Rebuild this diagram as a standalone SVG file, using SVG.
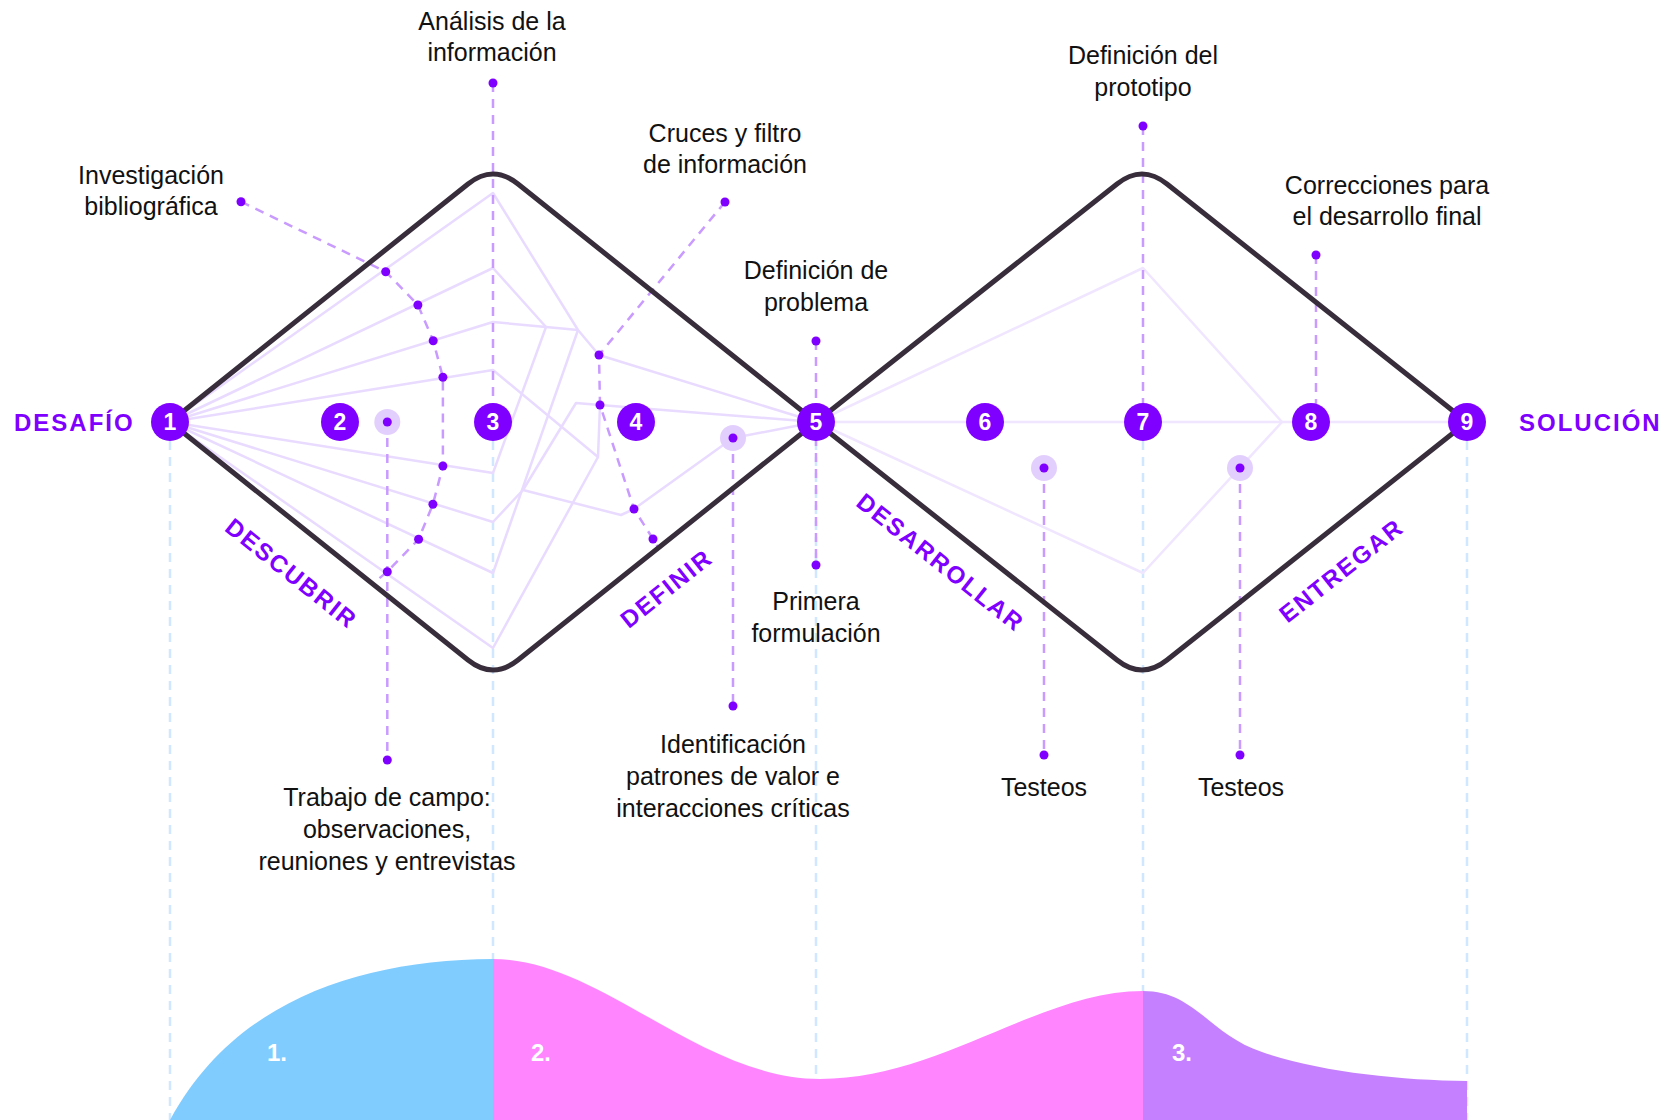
<svg xmlns="http://www.w3.org/2000/svg" width="1675" height="1120" viewBox="0 0 1675 1120">
<style>
.dia{fill:none;stroke:#372d3b;stroke-width:5;stroke-linejoin:round}
.web{fill:none;stroke:#e9dbff;stroke-width:2.5;stroke-linejoin:round}
.web2{fill:none;stroke:#f0e6ff;stroke-width:2.5;stroke-linejoin:round}
.pd{fill:none;stroke:#c99bff;stroke-width:2.5;stroke-dasharray:9 7}
.bd{fill:none;stroke:#cfe8ff;stroke-width:2.5;stroke-dasharray:9 7}
.dot{fill:#7f00ff}
.halo{fill:#e3cffd}
.nd{fill:#7f00ff}
.num{fill:#fff;font-family:"Liberation Sans",Arial,sans-serif;font-weight:bold;font-size:23px;text-anchor:middle}
.lbl{fill:#111;font-family:"Liberation Sans",Arial,sans-serif;font-size:25px;text-anchor:middle}
.phase{fill:#7f00ff;font-family:"Liberation Sans",Arial,sans-serif;font-weight:bold;font-size:24px;letter-spacing:2px}
.sec{fill:#fff;font-family:"Liberation Sans",Arial,sans-serif;font-weight:bold;font-size:24px}
</style>

<g id="guides">
<line class="bd" x1="170" y1="441" x2="170" y2="1120"/>
<line class="bd" x1="493" y1="441" x2="493" y2="960"/>
<line class="bd" x1="816" y1="441" x2="816" y2="1080"/>
<line class="bd" x1="1143" y1="441" x2="1143" y2="992"/>
<line class="bd" x1="1467" y1="441" x2="1467" y2="1120"/>
</g>

<g id="curves">
<path d="M170,1120 C235,1000 360,960 493,959 L493,1120 Z" fill="#80ccff"/>
<path d="M493,959 C600,959 700,1079 820,1079 C940,1079 1040,991 1143,991 L1143,1120 L493,1120 Z" fill="#ff85ff"/>
<path d="M1143,991 C1195,991 1210,1035 1262,1052 C1320,1072 1400,1080 1467,1081 L1467,1120 L1143,1120 Z" fill="#c580ff"/>
<text class="sec" x="267" y="1061">1.</text>
<text class="sec" x="531" y="1061">2.</text>
<text class="sec" x="1172" y="1061">3.</text>
</g>

<g id="connectors">
<path class="web" d="M170,422 L493,193 L578,330 L599,355 L816,422"/>
<path class="web" d="M170,422 L493,268 L546,327"/>
<path class="web" d="M170,422 L493,322 L546,327 L578,330"/>
<path class="web" d="M170,422 L493,370 L598,457 L600,405 L816,422"/>
<path class="web" d="M170,422 L493,473 L546,327"/>
<path class="web" d="M170,422 L493,522 L523,490 L621,515 L634,509 L733,438 L816,422"/>
<path class="web" d="M523,490 L576,403 L600,405"/>
<path class="web" d="M170,422 L493,573 L578,330"/>
<path class="web" d="M170,422 L493,648 L598,457"/>
<path class="web2" d="M816,422 L1143,268 L1282,422 L1143,573 L816,422"/>
<path class="web2" d="M816,422 L1467,422"/>

<polyline class="pd" points="241,201.7 385.7,271.7 417.9,305 433.2,340.7 442.9,377.3 442.9,466 432.9,504.3 418.6,539.3 387.3,571.7 376,581"/>
<line class="pd" x1="387.3" y1="422" x2="387.3" y2="760"/>
<line class="pd" x1="493" y1="83" x2="493" y2="404"/>
<polyline class="pd" points="725,202 599,355 600,405 634,509 653,539 659,549"/>
<line class="pd" x1="733" y1="438" x2="733" y2="706"/>
<line class="pd" x1="816" y1="341" x2="816" y2="565"/>
<line class="pd" x1="1143" y1="126" x2="1143" y2="404"/>
<line class="pd" x1="1316" y1="255" x2="1316" y2="404"/>
<line class="pd" x1="1044" y1="468" x2="1044" y2="755"/>
<line class="pd" x1="1240" y1="468" x2="1240" y2="755"/>
</g>

<g id="diamonds">
<path class="dia" d="M170,422 L468,184 Q493,164 518,184 L816,422 L518,660 Q493,680 468,660 Z"/>
<path class="dia" d="M816,422 L1117,184 Q1142,164 1167,184 L1467,422 L1167,660 Q1142,680 1117,660 Z"/>
</g>

<g id="points">
<circle class="halo" cx="387.3" cy="422" r="13"/>
<circle class="halo" cx="733" cy="438" r="13"/>
<circle class="halo" cx="1044" cy="468" r="13"/>
<circle class="halo" cx="1240" cy="468" r="13"/>
<circle class="dot" cx="241" cy="201.7" r="4.5"/>
<circle class="dot" cx="385.7" cy="271.7" r="4.5"/>
<circle class="dot" cx="417.9" cy="305" r="4.5"/>
<circle class="dot" cx="433.2" cy="340.7" r="4.5"/>
<circle class="dot" cx="442.9" cy="377.3" r="4.5"/>
<circle class="dot" cx="442.9" cy="466" r="4.5"/>
<circle class="dot" cx="432.9" cy="504.3" r="4.5"/>
<circle class="dot" cx="418.6" cy="539.3" r="4.5"/>
<circle class="dot" cx="387.3" cy="571.7" r="4.5"/>
<circle class="dot" cx="387.3" cy="422" r="4.5"/>
<circle class="dot" cx="387.3" cy="760" r="4.5"/>
<circle class="dot" cx="493" cy="83" r="4.5"/>
<circle class="dot" cx="725" cy="202" r="4.5"/>
<circle class="dot" cx="599" cy="355" r="4.5"/>
<circle class="dot" cx="600" cy="405" r="4.5"/>
<circle class="dot" cx="634" cy="509" r="4.5"/>
<circle class="dot" cx="653" cy="539" r="4.5"/>
<circle class="dot" cx="733" cy="438" r="4.5"/>
<circle class="dot" cx="733" cy="706" r="4.5"/>
<circle class="dot" cx="816" cy="341" r="4.5"/>
<circle class="dot" cx="816" cy="565" r="4.5"/>
<circle class="dot" cx="1143" cy="126" r="4.5"/>
<circle class="dot" cx="1316" cy="255" r="4.5"/>
<circle class="dot" cx="1044" cy="468" r="4.5"/>
<circle class="dot" cx="1240" cy="468" r="4.5"/>
<circle class="dot" cx="1044" cy="755" r="4.5"/>
<circle class="dot" cx="1240" cy="755" r="4.5"/>
</g>

<g id="n1"><circle class="nd" cx="170" cy="422" r="19"/><text class="num" x="170" y="430">1</text></g>
<g id="n2"><circle class="nd" cx="340" cy="422" r="19"/><text class="num" x="340" y="430">2</text></g>
<g id="n3"><circle class="nd" cx="493" cy="422" r="19"/><text class="num" x="493" y="430">3</text></g>
<g id="n4"><circle class="nd" cx="636" cy="422" r="19"/><text class="num" x="636" y="430">4</text></g>
<g id="n5"><circle class="nd" cx="816" cy="422" r="19"/><text class="num" x="816" y="430">5</text></g>
<g id="n6"><circle class="nd" cx="985" cy="422" r="19"/><text class="num" x="985" y="430">6</text></g>
<g id="n7"><circle class="nd" cx="1143" cy="422" r="19"/><text class="num" x="1143" y="430">7</text></g>
<g id="n8"><circle class="nd" cx="1311" cy="422" r="19"/><text class="num" x="1311" y="430">8</text></g>
<g id="n9"><circle class="nd" cx="1467" cy="422" r="19"/><text class="num" x="1467" y="430">9</text></g>

<g id="phases">
<text class="phase" x="14" y="431">DESAFÍO</text>
<text class="phase" x="1519" y="431">SOLUCIÓN</text>
<text class="phase" text-anchor="middle" transform="translate(292,573) rotate(38.6)" y="9">DESCUBRIR</text>
<text class="phase" text-anchor="middle" transform="translate(666,588) rotate(-38.6)" y="9">DEFINIR</text>
<text class="phase" text-anchor="middle" transform="translate(941,562) rotate(38.4)" y="9">DESARROLLAR</text>
<text class="phase" text-anchor="middle" transform="translate(1341,570) rotate(-38.4)" y="9">ENTREGAR</text>
</g>

<g id="labels">
<text class="lbl" x="492" y="30">Análisis de la</text>
<text class="lbl" x="492" y="61">información</text>
<text class="lbl" x="725" y="142">Cruces y filtro</text>
<text class="lbl" x="725" y="173">de información</text>
<text class="lbl" x="151" y="184">Investigación</text>
<text class="lbl" x="151" y="215">bibliográfica</text>
<text class="lbl" x="816" y="279">Definición de</text>
<text class="lbl" x="816" y="311">problema</text>
<text class="lbl" x="1143" y="64">Definición del</text>
<text class="lbl" x="1143" y="96">prototipo</text>
<text class="lbl" x="1387" y="194">Correcciones para</text>
<text class="lbl" x="1387" y="225">el desarrollo final</text>
<text class="lbl" x="816" y="610">Primera</text>
<text class="lbl" x="816" y="642">formulación</text>
<text class="lbl" x="387" y="806">Trabajo de campo:</text>
<text class="lbl" x="387" y="838">observaciones,</text>
<text class="lbl" x="387" y="870">reuniones y entrevistas</text>
<text class="lbl" x="733" y="753">Identificación</text>
<text class="lbl" x="733" y="785">patrones de valor e</text>
<text class="lbl" x="733" y="817">interacciones críticas</text>
<text class="lbl" x="1044" y="796">Testeos</text>
<text class="lbl" x="1241" y="796">Testeos</text>
</g>
</svg>
